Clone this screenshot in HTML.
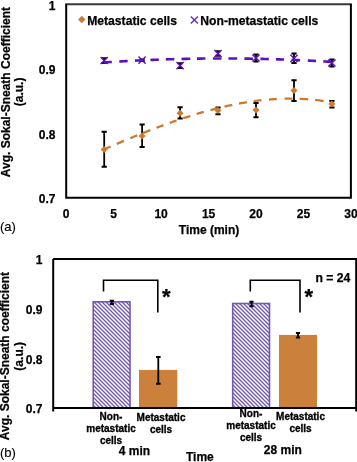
<!DOCTYPE html>
<html><head><meta charset="utf-8"><style>
html,body{margin:0;padding:0;background:#fff;width:357px;height:462px;overflow:hidden}
svg{display:block;will-change:transform}
text{font-family:"Liberation Sans",sans-serif;fill:#000;stroke:#000;stroke-width:0.25px}
.b10{stroke-width:0.32px}
.r13{stroke-width:0.15px}
.b12{font-size:12px;font-weight:bold}
.b10{font-size:10px;font-weight:bold}
.b22{font-size:22px;font-weight:bold}
.r13{font-size:13px}
</style></head><body>
<svg width="357" height="462" viewBox="0 0 357 462">
<path d="M65.2,4.2 H351.9" stroke="#383838" stroke-width="2" fill="none"/>
<path d="M66.2,4.2 V197.7 H350.9 V4.2" stroke="#000" stroke-width="2" fill="none"/>
<path d="M104.2,58.2 V62.9" stroke="#000" stroke-width="1.8" fill="none"/><path d="M101.6,58.2 H106.8 M101.6,62.9 H106.8" stroke="#000" stroke-width="2" fill="none"/>
<path d="M142.1,59.4 V61.0" stroke="#000" stroke-width="1.8" fill="none"/><path d="M139.5,59.4 H144.7 M139.5,61.0 H144.7" stroke="#000" stroke-width="2" fill="none"/>
<path d="M180.1,63.3 V68.0" stroke="#000" stroke-width="1.8" fill="none"/><path d="M177.5,63.3 H182.7 M177.5,68.0 H182.7" stroke="#000" stroke-width="2" fill="none"/>
<path d="M218.0,51.3 V55.8" stroke="#000" stroke-width="1.8" fill="none"/><path d="M215.4,51.3 H220.6 M215.4,55.8 H220.6" stroke="#000" stroke-width="2" fill="none"/>
<path d="M256.0,54.5 V61.5" stroke="#000" stroke-width="1.8" fill="none"/><path d="M253.4,54.5 H258.6 M253.4,61.5 H258.6" stroke="#000" stroke-width="2" fill="none"/>
<path d="M294.0,53.6 V63.1" stroke="#000" stroke-width="1.8" fill="none"/><path d="M291.4,53.6 H296.6 M291.4,63.1 H296.6" stroke="#000" stroke-width="2" fill="none"/>
<path d="M331.9,59.6 V66.6" stroke="#000" stroke-width="1.8" fill="none"/><path d="M329.3,59.6 H334.5 M329.3,66.6 H334.5" stroke="#000" stroke-width="2" fill="none"/>
<path d="M104.2,131.7 V166.7" stroke="#000" stroke-width="1.8" fill="none"/><path d="M101.6,131.7 H106.8 M101.6,166.7 H106.8" stroke="#000" stroke-width="2" fill="none"/>
<path d="M142.1,124.6 V146.9" stroke="#000" stroke-width="1.8" fill="none"/><path d="M139.5,124.6 H144.7 M139.5,146.9 H144.7" stroke="#000" stroke-width="2" fill="none"/>
<path d="M180.1,107.3 V118.5" stroke="#000" stroke-width="1.8" fill="none"/><path d="M177.5,107.3 H182.7 M177.5,118.5 H182.7" stroke="#000" stroke-width="2" fill="none"/>
<path d="M218.0,107.6 V114.3" stroke="#000" stroke-width="1.8" fill="none"/><path d="M215.4,107.6 H220.6 M215.4,114.3 H220.6" stroke="#000" stroke-width="2" fill="none"/>
<path d="M256.0,102.9 V117.3" stroke="#000" stroke-width="1.8" fill="none"/><path d="M253.4,102.9 H258.6 M253.4,117.3 H258.6" stroke="#000" stroke-width="2" fill="none"/>
<path d="M294.0,80.2 V101.0" stroke="#000" stroke-width="1.8" fill="none"/><path d="M291.4,80.2 H296.6 M291.4,101.0 H296.6" stroke="#000" stroke-width="2" fill="none"/>
<path d="M331.9,101.0 V107.4" stroke="#000" stroke-width="1.8" fill="none"/><path d="M329.3,101.0 H334.5 M329.3,107.4 H334.5" stroke="#000" stroke-width="2" fill="none"/>
<path d="M104.2,146.1 L107.7,149.6 L104.2,153.1 L100.7,149.6Z" fill="#cd7a30"/>
<path d="M142.1,132.4 L145.6,135.9 L142.1,139.4 L138.6,135.9Z" fill="#cd7a30"/>
<path d="M180.1,109.8 L183.6,113.3 L180.1,116.8 L176.6,113.3Z" fill="#cd7a30"/>
<path d="M218.0,107.0 L221.5,110.5 L218.0,114.0 L214.5,110.5Z" fill="#cd7a30"/>
<path d="M256.0,106.6 L259.5,110.1 L256.0,113.6 L252.5,110.1Z" fill="#cd7a30"/>
<path d="M294.0,87.0 L297.5,90.5 L294.0,94.0 L290.5,90.5Z" fill="#cd7a30"/>
<path d="M331.9,100.6 L335.4,104.1 L331.9,107.6 L328.4,104.1Z" fill="#cd7a30"/>
<path d="M100.6,56.9 L107.8,64.1 M107.8,56.9 L100.6,64.1" stroke="#600fbe" stroke-width="1.4" fill="none"/>
<path d="M138.5,56.5 L145.7,63.7 M145.7,56.5 L138.5,63.7" stroke="#600fbe" stroke-width="1.4" fill="none"/>
<path d="M176.5,62.0 L183.7,69.2 M183.7,62.0 L176.5,69.2" stroke="#600fbe" stroke-width="1.4" fill="none"/>
<path d="M214.4,49.9 L221.6,57.1 M221.6,49.9 L214.4,57.1" stroke="#600fbe" stroke-width="1.4" fill="none"/>
<path d="M252.4,54.4 L259.6,61.6 M259.6,54.4 L252.4,61.6" stroke="#600fbe" stroke-width="1.4" fill="none"/>
<path d="M290.4,54.8 L297.6,62.0 M297.6,54.8 L290.4,62.0" stroke="#600fbe" stroke-width="1.4" fill="none"/>
<path d="M328.3,59.4 L335.5,66.6 M335.5,59.4 L328.3,66.6" stroke="#600fbe" stroke-width="1.4" fill="none"/>
<path d="M103.70,149.56 L105.42,148.81 L107.15,148.06 L108.88,147.31 L110.60,146.56M116.80,143.90 L118.58,143.14 L120.35,142.39 L122.12,141.64 L123.90,140.89M130.30,138.21 L132.05,137.49 L133.80,136.77 L135.55,136.05 L137.30,135.34M143.00,133.04 L144.85,132.31 L146.70,131.58 L148.55,130.85 L150.40,130.13M156.50,127.78 L158.22,127.13 L159.95,126.48 L161.68,125.84 L163.40,125.20M169.80,122.88 L171.50,122.28 L173.20,121.68 L174.90,121.08 L176.60,120.50M183.20,118.27 L184.97,117.69 L186.75,117.11 L188.53,116.54 L190.30,115.97M196.70,114.00 L198.47,113.47 L200.25,112.95 L202.03,112.43 L203.80,111.92M210.50,110.08 L212.32,109.59 L214.15,109.12 L215.98,108.65 L217.80,108.20M224.50,106.60 L226.45,106.16 L228.40,105.73 L230.35,105.31 L232.30,104.91M239.00,103.59 L240.97,103.23 L242.95,102.89 L244.93,102.55 L246.90,102.23M253.60,101.23 L255.57,100.97 L257.55,100.72 L259.52,100.48 L261.50,100.25M269.00,99.53 L270.95,99.38 L272.90,99.24 L274.85,99.11 L276.80,99.00M284.60,98.70 L286.58,98.67 L288.55,98.64 L290.52,98.64 L292.50,98.65M299.60,98.82 L301.75,98.92 L303.90,99.03 L306.05,99.17 L308.20,99.32M315.20,99.97 L317.30,100.21 L319.40,100.47 L321.50,100.75 L323.60,101.04M330.60,102.20 L330.95,102.26 L331.30,102.32 L331.65,102.39 L332.00,102.45" fill="none" stroke="#cd7a30" stroke-width="2.3"/>
<path d="M103.60,62.48 L105.65,62.34 L107.70,62.20 L109.75,62.07 L111.80,61.94M119.30,61.48 L121.40,61.36 L123.50,61.24 L125.60,61.13 L127.70,61.01M135.00,60.63 L137.12,60.53 L139.25,60.43 L141.38,60.33 L143.50,60.23M150.40,59.93 L152.50,59.85 L154.60,59.77 L156.70,59.69 L158.80,59.61M165.90,59.37 L168.00,59.30 L170.10,59.24 L172.20,59.18 L174.30,59.12M181.50,58.94 L183.70,58.89 L185.90,58.84 L188.10,58.79 L190.30,58.75M197.00,58.64 L199.10,58.61 L201.20,58.59 L203.30,58.56 L205.40,58.54M212.90,58.49 L215.05,58.48 L217.20,58.47 L219.35,58.46 L221.50,58.46M228.40,58.47 L230.60,58.48 L232.80,58.49 L235.00,58.51 L237.20,58.52M244.40,58.60 L246.55,58.63 L248.70,58.66 L250.85,58.69 L253.00,58.73M260.40,58.88 L262.50,58.92 L264.60,58.97 L266.70,59.02 L268.80,59.08M275.90,59.28 L277.95,59.35 L280.00,59.41 L282.05,59.48 L284.10,59.55M291.60,59.83 L293.70,59.92 L295.80,60.00 L297.90,60.09 L300.00,60.18M307.80,60.55 L309.85,60.65 L311.90,60.75 L313.95,60.86 L316.00,60.97M323.30,61.37 L325.35,61.49 L327.40,61.61 L329.45,61.74 L331.50,61.86" fill="none" stroke="#600fbe" stroke-width="2.6"/>
<path d="M81.8,15.8 L85.5,19.5 L81.8,23.2 L78.1,19.5Z" fill="#cd7a30"/>
<text x="87.2" y="24.8" class="b12" style="font-size:12.15px">Metastatic cells</text>
<path d="M190.8,16.4 L197.9,23.4 M197.9,16.4 L190.8,23.4" stroke="#6624c6" stroke-width="1.35"/>
<text x="200.3" y="24.8" class="b12" style="font-size:12.15px">Non-metastatic cells</text>
<text x="55.5" y="9.7" class="b12" text-anchor="end">1</text>
<text x="55.5" y="74.2" class="b12" text-anchor="end">0.9</text>
<text x="55.5" y="138.7" class="b12" text-anchor="end">0.8</text>
<text x="55.5" y="203.2" class="b12" text-anchor="end">0.7</text>
<text x="66.2" y="217.5" class="b12" text-anchor="middle">0</text>
<text x="113.7" y="217.5" class="b12" text-anchor="middle">5</text>
<text x="161.1" y="217.5" class="b12" text-anchor="middle">10</text>
<text x="208.6" y="217.5" class="b12" text-anchor="middle">15</text>
<text x="256.0" y="217.5" class="b12" text-anchor="middle">20</text>
<text x="303.4" y="217.5" class="b12" text-anchor="middle">25</text>
<text x="350.9" y="217.5" class="b12" text-anchor="middle">30</text>
<text x="178.8" y="234.0" class="b12">Time (min)</text>
<text transform="translate(9.7,92.1) rotate(-90)" class="b12" text-anchor="middle">Avg. Sokal-Sneath Coefficient</text>
<text transform="translate(23.3,91.9) rotate(-90)" class="b12" text-anchor="middle">(a.u.)</text>
<text x="0" y="231.4" class="r13">(a)</text>
<defs><pattern id="hatch" patternUnits="userSpaceOnUse" x="0" y="0" width="4" height="4"><rect width="4" height="4" fill="#fff"/><path d="M-1,-1 L5,5 M-1,3 L1,5 M3,-1 L5,1" stroke="#7258ae" stroke-width="1.35" fill="none"/></pattern></defs>
<rect x="93.2" y="301.8" width="36.8" height="106.2" fill="url(#hatch)" stroke="#7258ae" stroke-width="1.6"/>
<rect x="232.7" y="303.5" width="36.8" height="104.5" fill="url(#hatch)" stroke="#7258ae" stroke-width="1.6"/>
<rect x="139" y="369.9" width="38.3" height="38.1" fill="#cb803b"/>
<rect x="279" y="334.9" width="38.0" height="73.1" fill="#cb803b"/>
<path d="M111.9,300.8 V303.9" stroke="#000" stroke-width="1.8" fill="none"/><path d="M109.8,300.8 H114.0 M109.8,303.9 H114.0" stroke="#000" stroke-width="2" fill="none"/>
<path d="M158.3,356.9 V383.8" stroke="#000" stroke-width="1.8" fill="none"/><path d="M156.0,356.9 H160.6 M156.0,383.8 H160.6" stroke="#000" stroke-width="2" fill="none"/>
<path d="M251.5,301.8 V306.2" stroke="#000" stroke-width="1.8" fill="none"/><path d="M249.4,301.8 H253.6 M249.4,306.2 H253.6" stroke="#000" stroke-width="2" fill="none"/>
<path d="M298.0,332.9 V337.6" stroke="#000" stroke-width="1.8" fill="none"/><path d="M295.9,332.9 H300.1 M295.9,337.6 H300.1" stroke="#000" stroke-width="2" fill="none"/>
<path d="M53.2,259 H356.2 V411.5 M53.2,411.5 V259 M53.2,408 H356.2" fill="none" stroke="#000" stroke-width="2"/>
<path d="M103.5,291.4 V280.2 H157.8 V312.4" fill="none" stroke="#000" stroke-width="1.6"/>
<path d="M250.3,291.6 V280.2 H300 V312.4" fill="none" stroke="#000" stroke-width="1.6"/>
<text x="166.4" y="304.0" class="b22" text-anchor="middle">*</text>
<text x="308.8" y="304.0" class="b22" text-anchor="middle">*</text>
<text x="315.4" y="281.8" class="b12" style="font-size:12.2px">n = 24</text>
<text x="42.5" y="264.3" class="b12" text-anchor="end">1</text>
<text x="42.5" y="314.0" class="b12" text-anchor="end">0.9</text>
<text x="42.5" y="363.6" class="b12" text-anchor="end">0.8</text>
<text x="42.5" y="413.3" class="b12" text-anchor="end">0.7</text>
<text x="111" y="420.0" class="b10" text-anchor="middle">Non-</text><text x="111" y="432.0" class="b10" text-anchor="middle">metastatic</text><text x="111" y="444.0" class="b10" text-anchor="middle">cells</text>
<text x="161" y="420.7" class="b10" text-anchor="middle">Metastatic</text><text x="161" y="432.7" class="b10" text-anchor="middle">cells</text>
<text x="251" y="417.0" class="b10" text-anchor="middle">Non-</text><text x="251" y="429.0" class="b10" text-anchor="middle">metastatic</text><text x="251" y="441.0" class="b10" text-anchor="middle">cells</text>
<text x="300.5" y="419.5" class="b10" text-anchor="middle">Metastatic</text><text x="300.5" y="431.5" class="b10" text-anchor="middle">cells</text>
<text x="134.5" y="454.5" class="b12" text-anchor="middle">4 min</text>
<text x="282.8" y="454.3" class="b12" text-anchor="middle">28 min</text>
<text x="186" y="461" class="b12">Time</text>
<text transform="translate(9.4,356.1) rotate(-90)" class="b12" text-anchor="middle">Avg. Sokal-Sneath coefficient</text>
<text transform="translate(22.8,356.3) rotate(-90)" class="b12" text-anchor="middle">(a.u.)</text>
<text x="0" y="456.9" class="r13">(b)</text>
</svg>
</body></html>
